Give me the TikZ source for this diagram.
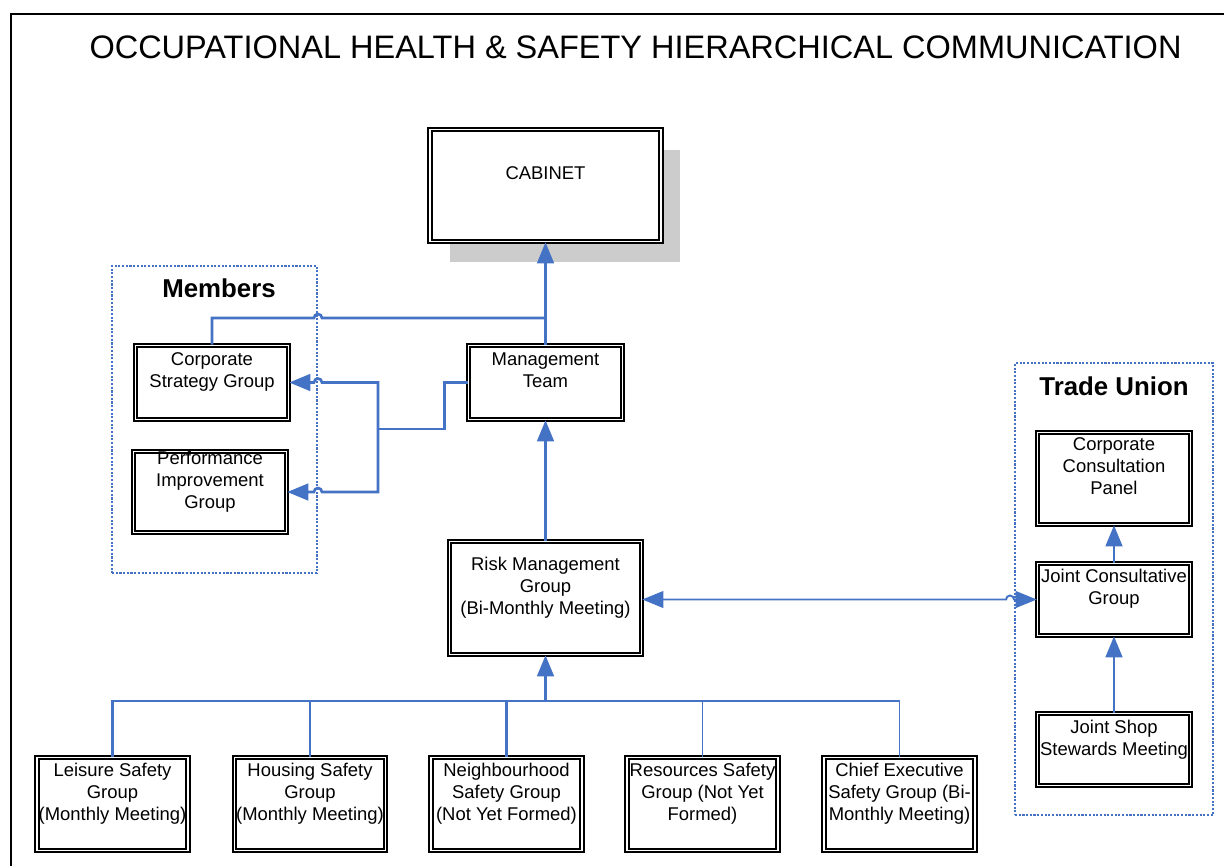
\documentclass[tikz,border=0pt]{standalone}
\usepackage{fontspec}
\setmainfont{Liberation Sans}
\usetikzlibrary{arrows.meta}
\usetikzlibrary{calc}
\usetikzlibrary{positioning}
\usetikzlibrary{shadows}
\definecolor{ohsblue}{HTML}{4472C4}
\tikzset{
  ohstip/.tip = {Triangle[length=12pt,width=9.5pt]},
  grpnode/.style = {draw=black, double, double distance=1.1pt, line width=0.9pt, fill=white, inner sep=0pt},% boite a double trait
  grptext/.style = {anchor=north, align=center, inner sep=0pt, font=\fontsize{10.5}{12.5}\selectfont},
  sgrp/.style = {grpnode, minimum width=3.02cm, minimum height=1.86cm},% groupes du bas
  panel/.style = {draw=ohsblue, line width=1.1pt, dash pattern=on 1.2pt off 0.9pt, inner sep=0pt},% cadre pointille
  paneltext/.style = {anchor=north, inner sep=0pt, font=\fontsize{14.7}{17}\selectfont\bfseries},
  link/.style = {draw=ohsblue, line width=1.5pt},
  tlink/.style = {draw=ohsblue, line width=0.8pt},
}

\begin{document}
\begin{tikzpicture}[x=0.02cm, y=-0.02cm]
\useasboundingbox (0,0) rectangle (1224,866);
\draw[line width=1.1pt] (11,866) |- (1224,14);
\node[font=\fontsize{18.5}{22}\selectfont] (title) at (635.5,47) {OCCUPATIONAL HEALTH \& SAFETY HIERARCHICAL COMMUNICATION};

% cadres pointilles
\node[panel, minimum width=4.1cm, minimum height=6.14cm,
  label={[paneltext, xshift=0.09cm, yshift=-0.27cm]north:Members}] (members) at (214.5,419.5) {};
\node[panel, minimum width=3.96cm, minimum height=9.04cm,
  label={[paneltext, yshift=-0.28cm]north:Trade Union}] (union) at (1114,589) {};

% groupes
\node[grpnode, general shadow={fill=black!20, shadow xshift=0.39cm, shadow yshift=-0.41cm},
  minimum width=4.62cm, minimum height=2.24cm,
  label={[grptext, yshift=-0.75cm]north:CABINET}] (cab) at (545.5,185.5) {};
\node[grpnode, minimum width=3.08cm, minimum height=1.48cm,
  label={[grptext, yshift=-0.15cm]north:Management\\Team}] (mt) at (545.5,382.5) {};
\node[grpnode, minimum width=3.06cm, minimum height=1.48cm,
  label={[grptext, yshift=-0.15cm]north:Corporate\\Strategy Group}] (csg) at (212,382.5) {};
\node[grpnode, minimum width=3.06cm, minimum height=1.62cm,
  label={[grptext, yshift=0cm]north:Performance\\Improvement\\Group}] (pig) at (210,492) {};
\node[grpnode, minimum width=3.84cm, minimum height=2.26cm,
  label={[grptext, yshift=-0.33cm]north:Risk Management\\Group\\(Bi-Monthly Meeting)}] (rmg) at (545.5,598) {};
\node[grpnode, minimum width=3.06cm, minimum height=1.84cm,
  label={[grptext, yshift=-0.11cm]north:Corporate\\Consultation\\Panel}] (ccp) at (1114,478.5) {};
\node[grpnode, minimum width=3.06cm, minimum height=1.44cm,
  label={[grptext, yshift=-0.13cm]north:Joint Consultative\\Group}] (jcg) at (1114,599.5) {};
\node[grpnode, minimum width=3.06cm, minimum height=1.44cm,
  label={[grptext, yshift=-0.15cm]north:Joint Shop\\Stewards Meeting}] (jssm) at (1114,749.5) {};

% groupes de securite
\node[sgrp, label={[grptext, yshift=-0.13cm]north:Leisure Safety\\Group\\(Monthly Meeting)}] (lsg) at (112.5,804) {};
\node[sgrp, label={[grptext, yshift=-0.13cm]north:Housing Safety\\Group\\(Monthly Meeting)}] (hsg) at (310,804) {};
\node[sgrp, label={[grptext, yshift=-0.13cm]north:Neighbourhood\\Safety Group\\(Not Yet Formed)}] (nsg) at (506.5,804) {};
\node[sgrp, label={[grptext, yshift=-0.13cm]north:Resources Safety\\Group (Not Yet\\Formed)}] (rsg) at (702.5,804) {};
\node[sgrp, label={[grptext, yshift=-0.13cm]north:Chief Executive\\Safety Group (Bi-\\Monthly Meeting)}] (cesg) at (899.5,804) {};

% liaisons
\coordinate (jn) at (545.5,318);
\coordinate (br) at (378,429);
\coordinate (bus) at (545.5,701);
\draw[link, -ohstip] (mt.north) -- (cab.south);
\draw[link] (csg.north) |- ($(members.east |- jn)+(-4,0)$) arc[start angle=180, end angle=0, radius=0.08cm] -- (jn);
\draw[link] (mt.west) -- ++(-23,0) |- (br);
\draw[link, -ohstip] (br) |- ($(members.east |- csg.east)+(4,0)$) arc[start angle=0, end angle=180, radius=0.08cm] -- (csg.east);
\draw[link, -ohstip] (br) |- ($(members.east |- pig.east)+(4,0)$) arc[start angle=0, end angle=180, radius=0.08cm] -- (pig.east);
\draw[link, -ohstip] (rmg.north) -- (mt.south);

\draw[link, -ohstip] (bus) -- (rmg.south);
\draw[link] (lsg.north) |- (bus);
\draw[link] (hsg.north) |- (bus);
\draw[link] (nsg.north) |- (bus);
\draw[tlink] (rsg.north) |- (bus);
\draw[tlink] (cesg.north) |- (bus);

\draw[tlink, line width=1.1pt, ohstip-ohstip] (rmg.east |- jcg.west) -- ($(union.west |- jcg.west)+(-8,0)$) arc[start angle=180, end angle=0, radius=0.08cm] -- (jcg.west);
\draw[link, -ohstip] (jcg.north) -- (ccp.south);
\draw[link, -ohstip] (jssm.north) -- (jcg.south);
\end{tikzpicture}
\end{document}
